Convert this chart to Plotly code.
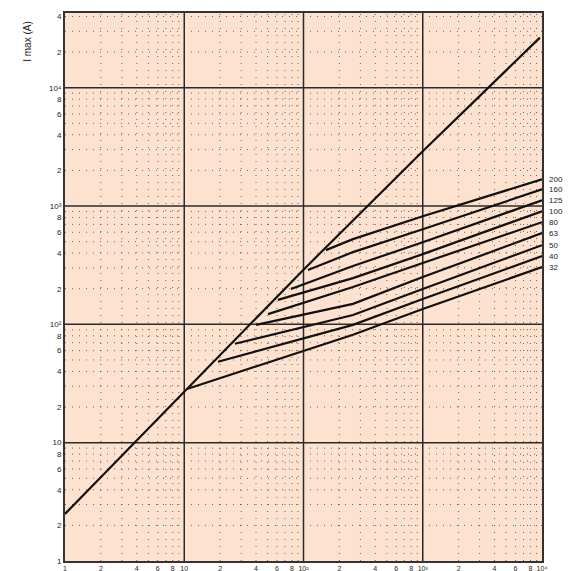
import numpy as np
import plotly.graph_objects as go

# ---- data ----
diag_x = [1, 10, 100, 1000, 9600]
diag_y = [2.5, 27, 290, 2900, 26500]

curve_labels = ["200", "160", "125", "100", "80", "63", "50", "40", "32"]
curve_x = [
    [154, 260, 1000, 10000],
    [109, 260, 1000, 10000],
    [78.5, 260, 1000, 10000],
    [61, 260, 1000, 10000],
    [50.4, 260, 1000, 10000],
    [40, 260, 1000, 10000],
    [26.6, 260, 1000, 10000],
    [19.2, 260, 1000, 10000],
    [10.7, 260, 1000, 10000],
]
curve_y = [
    [424, 525, 820, 1680],
    [288, 408, 637, 1384],
    [199, 311, 495, 1118],
    [161, 246, 392, 903],
    [122, 207, 330, 730],
    [99, 149, 251, 590],
    [68.5, 120, 199, 467],
    [48.3, 99, 164, 377],
    [28.6, 81.6, 135, 305],
]

x_decades = [1, 10, 100, 1000]
x_max = 10000
y_decades = [1, 10, 100, 1000, 10000]
y_max = 42800
label_digits = [2, 4, 6, 8]
decade_text = {1: "1", 10: "10", 100: "10²", 1000: "10³", 10000: "10⁴"}

x_tickvals = []
x_ticktext = []
for d in x_decades:
    x_tickvals.append(d); x_ticktext.append(decade_text[d])
    for m in label_digits:
        x_tickvals.append(d * m); x_ticktext.append(str(m))
x_tickvals.append(x_max); x_ticktext.append(decade_text[x_max])

y_tickvals = []
y_ticktext = []
for d in y_decades:
    y_tickvals.append(d); y_ticktext.append(decade_text[d])
    for m in label_digits:
        if d * m <= y_max:
            y_tickvals.append(d * m); y_ticktext.append(str(m))

fig = go.Figure()

# ---- grid as traces ----
minor_x = [d * m for d in x_decades for m in range(2, 10)]
major_x = x_decades[1:]
minor_y = [d * m for d in y_decades for m in range(2, 10) if d * m <= y_max]
major_y = y_decades[1:]

def vlines(vals, y0, y1):
    xs, ys = [], []
    for v in vals:
        xs += [v, v, None]; ys += [y0, y1, None]
    return xs, ys

def hlines(vals, x0, x1):
    xs, ys = [], []
    for v in vals:
        xs += [x0, x1, None]; ys += [v, v, None]
    return xs, ys

minor_style = dict(color="rgba(60,40,30,0.7)", width=1, dash="1px,6px")
major_style = dict(color="#2a2a2a", width=1.5)

gx, gy = vlines(minor_x, 1, y_max)
fig.add_trace(go.Scatter(x=gx, y=gy, mode="lines", line=minor_style, hoverinfo="skip"))
gx, gy = hlines(minor_y, 1, x_max)
fig.add_trace(go.Scatter(x=gx, y=gy, mode="lines", line=minor_style, hoverinfo="skip"))
gx, gy = vlines(major_x, 1, y_max)
fig.add_trace(go.Scatter(x=gx, y=gy, mode="lines", line=major_style, hoverinfo="skip"))
gx, gy = hlines(major_y, 1, x_max)
fig.add_trace(go.Scatter(x=gx, y=gy, mode="lines", line=major_style, hoverinfo="skip"))

# ---- curves ----
fig.add_trace(go.Scatter(x=diag_x, y=diag_y, mode="lines",
                         line=dict(color="#111111", width=2.2)))
for lab, xs, ys in zip(curve_labels, curve_x, curve_y):
    fig.add_trace(go.Scatter(x=xs, y=ys, mode="lines", name=lab,
                             line=dict(color="#111111", width=2.2)))

annotations = []
for lab, ys in zip(curve_labels, curve_y):
    annotations.append(dict(x=1.0, xref="paper", y=float(np.log10(ys[-1])), yref="y",
                            text=lab, showarrow=False, xanchor="left", xshift=5,
                            font=dict(size=8, color="#222222")))
annotations.append(dict(x=-0.078, xref="paper", y=0.99, yref="paper",
                        text="I max (A)", showarrow=False, textangle=-90,
                        xanchor="center", yanchor="top",
                        font=dict(size=10, color="#222222")))

fig.update_layout(
    width=571, height=571,
    margin=dict(l=57, r=37, t=3, b=18),
    paper_bgcolor="white",
    plot_bgcolor="#FDE3CF",
    showlegend=False,
    font=dict(family="Liberation Sans, Arial, sans-serif", size=8, color="#222222"),
    annotations=annotations,
    xaxis=dict(type="log", range=[0, np.log10(x_max)], tickvals=x_tickvals,
               ticktext=x_ticktext, showgrid=False, zeroline=False,
               showline=True, linecolor="#333333", linewidth=2, mirror=True,
               ticks="", tickangle=0, tickfont=dict(size=7)),
    yaxis=dict(type="log", range=[0, np.log10(y_max)], tickvals=y_tickvals,
               ticktext=y_ticktext, showgrid=False, zeroline=False,
               showline=True, linecolor="#333333", linewidth=2, mirror=True,
               ticks="", tickfont=dict(size=8)),
)

fig.write_html("out.html")
